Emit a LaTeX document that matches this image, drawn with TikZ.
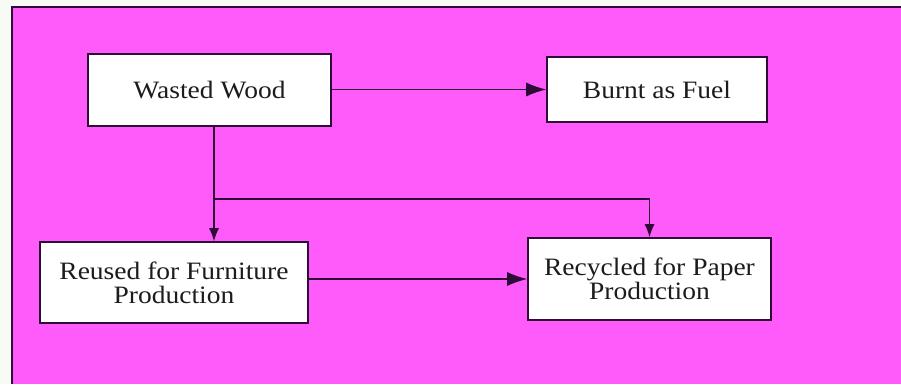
\documentclass[tikz,border=0pt]{standalone}
\usepackage{fontspec}
\setmainfont[FakeStretch=1.1]{Liberation Serif}
\usetikzlibrary{arrows.meta}
\definecolor{bgpink}{RGB}{255,90,250}
\definecolor{inkline}{RGB}{45,12,55}
\definecolor{paper}{RGB}{248,251,244}
\definecolor{txt}{RGB}{28,28,28}
\tikzset{
  box/.style={draw=inkline, fill=white, line width=1.6pt, align=center,
    inner sep=0pt, text=txt, font=\fontsize{25}{24}\selectfont},
  conn/.style={draw=inkline, line width=1.3pt},
  bigtip/.style={-{Latex[length=20pt,width=14pt]}},
  smalltip/.style={-{Latex[length=13pt,width=10pt]}}
}
\begin{document}
\begin{tikzpicture}[x=1pt,y=-1pt]
\useasboundingbox (0,0) rectangle (901,384);
\fill[paper] (0,0) rectangle (901,384);
\fill[bgpink] (12,7) rectangle (901,384);
\draw[inkline, line width=1.6pt] (12,384) -- (12,7) -- (901,7);

\node[box, minimum width=243pt, minimum height=72pt] (ww) at (209.5,90) {Wasted Wood};
\node[box, minimum width=220pt, minimum height=65pt] (burnt) at (657,89.5) {Burnt as Fuel};
\node[box, minimum width=268pt, minimum height=81pt] (reused) at (174,282.5) {Reused for Furniture\\Production};
\node[box, minimum width=243pt, minimum height=82pt] (rec) at (649.5,279) {Recycled for Paper\\Production};

\coordinate (j) at (214,199);

\draw[conn, bigtip] (ww.east |- burnt.west) -- (burnt.west);
\draw[conn] (ww.south -| j) -- (j);
\draw[conn, smalltip] (j) -- (j |- reused.north);
\draw[conn, smalltip] (j) -- (j -| rec.north) -- (rec.north);
\draw[conn, bigtip] (reused.east |- rec.west) -- (rec.west);
\end{tikzpicture}
\end{document}
